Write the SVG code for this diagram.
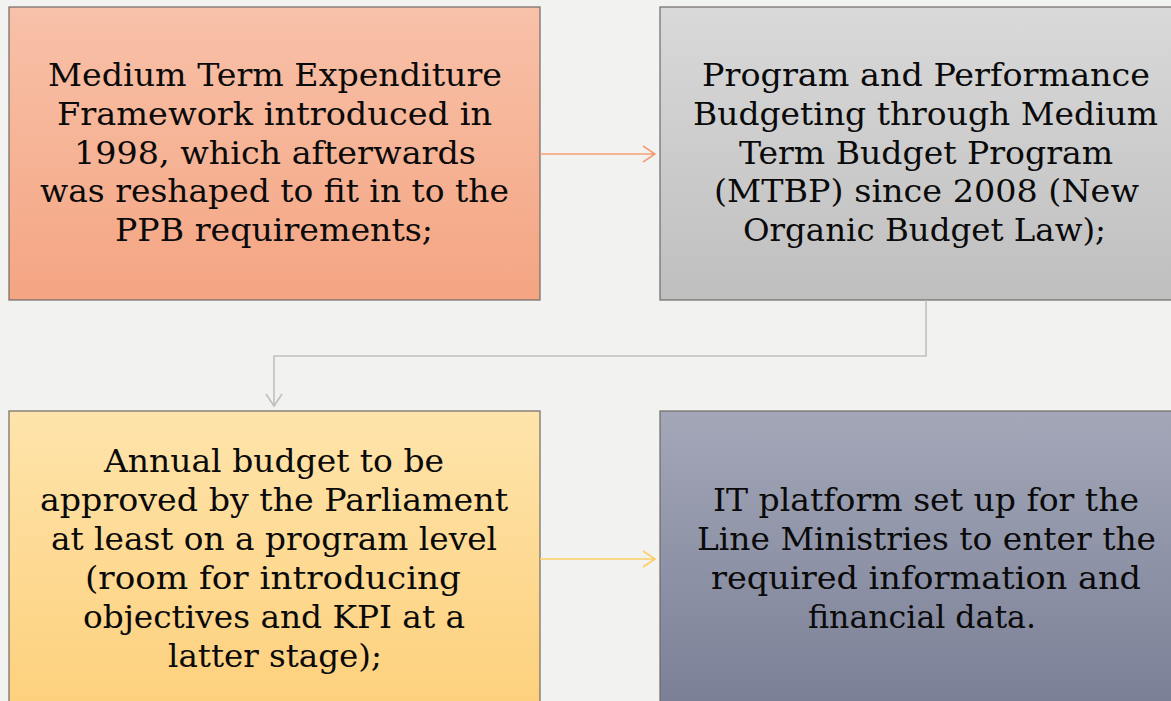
<svg xmlns="http://www.w3.org/2000/svg" width="1171" height="701" viewBox="0 0 1171 701">
<defs>
<linearGradient id="g1" x1="0" y1="0" x2="0" y2="1"><stop offset="0" stop-color="#f8c1a9"/><stop offset="1" stop-color="#f4a582"/></linearGradient>
<linearGradient id="g2" x1="0" y1="0" x2="0" y2="1"><stop offset="0" stop-color="#d9d9d9"/><stop offset="1" stop-color="#bfbfbf"/></linearGradient>
<linearGradient id="g3" x1="0" y1="0" x2="0" y2="1"><stop offset="0" stop-color="#fee4ab"/><stop offset="1" stop-color="#fdd07c"/></linearGradient>
<linearGradient id="g4" x1="0" y1="0" x2="0" y2="1"><stop offset="0" stop-color="#a3a7b8"/><stop offset="1" stop-color="#7b7f96"/></linearGradient>
<style>
.box{stroke:#6f6a66;stroke-width:1.2}
.t{font-family:"DejaVu Serif","Liberation Serif",serif;font-size:32px;fill:#0a0a0a;text-anchor:middle}
.c{fill:none;stroke-width:1.6}
</style>
</defs>
<rect width="1171" height="701" fill="#f2f2f0"/>
<g id="node1">
<rect class="box" x="9" y="7" width="531" height="293" fill="url(#g1)"/>
<text class="t" lengthAdjust="spacingAndGlyphs"><tspan x="275" y="86" textLength="454" lengthAdjust="spacingAndGlyphs">Medium Term Expenditure</tspan></text>
<text class="t"><tspan x="274.5" y="125" textLength="435" lengthAdjust="spacingAndGlyphs">Framework introduced in</tspan></text>
<text class="t"><tspan x="275" y="164" textLength="402" lengthAdjust="spacingAndGlyphs">1998, which afterwards</tspan></text>
<text class="t"><tspan x="274.5" y="202" textLength="469" lengthAdjust="spacingAndGlyphs">was reshaped to fit in to the</tspan></text>
<text class="t"><tspan x="274" y="241" textLength="318" lengthAdjust="spacingAndGlyphs">PPB requirements;</tspan></text>
</g>
<g id="node2">
<rect class="box" x="660" y="7" width="520" height="293" fill="url(#g2)"/>
<text class="t"><tspan x="926" y="86" textLength="448" lengthAdjust="spacingAndGlyphs">Program and Performance</tspan></text>
<text class="t"><tspan x="925.5" y="125" textLength="465" lengthAdjust="spacingAndGlyphs">Budgeting through Medium</tspan></text>
<text class="t"><tspan x="926" y="164" textLength="374" lengthAdjust="spacingAndGlyphs">Term Budget Program</tspan></text>
<text class="t"><tspan x="926.5" y="202" textLength="425" lengthAdjust="spacingAndGlyphs">(MTBP) since 2008 (New</tspan></text>
<text class="t"><tspan x="924.5" y="241" textLength="363" lengthAdjust="spacingAndGlyphs">Organic Budget Law);</tspan></text>
</g>
<g id="node3">
<rect class="box" x="9" y="411" width="531" height="300" fill="url(#g3)"/>
<text class="t"><tspan x="274" y="472" textLength="340" lengthAdjust="spacingAndGlyphs">Annual budget to be</tspan></text>
<text class="t"><tspan x="274" y="511" textLength="468" lengthAdjust="spacingAndGlyphs">approved by the Parliament</tspan></text>
<text class="t"><tspan x="274" y="550" textLength="446" lengthAdjust="spacingAndGlyphs">at least on a program level</tspan></text>
<text class="t"><tspan x="273" y="589" textLength="376" lengthAdjust="spacingAndGlyphs">(room for introducing</tspan></text>
<text class="t"><tspan x="274" y="628" textLength="382" lengthAdjust="spacingAndGlyphs">objectives and KPI at a</tspan></text>
<text class="t"><tspan x="275" y="667" textLength="214" lengthAdjust="spacingAndGlyphs">latter stage);</tspan></text>
</g>
<g id="node4">
<rect class="box" x="660" y="411" width="520" height="300" fill="url(#g4)"/>
<text class="t"><tspan x="926" y="511" textLength="426" lengthAdjust="spacingAndGlyphs">IT platform set up for the</tspan></text>
<text class="t"><tspan x="926.5" y="550" textLength="459" lengthAdjust="spacingAndGlyphs">Line Ministries to enter the</tspan></text>
<text class="t"><tspan x="926" y="589" textLength="430" lengthAdjust="spacingAndGlyphs">required information and</tspan></text>
<text class="t"><tspan x="922" y="628" textLength="228" lengthAdjust="spacingAndGlyphs">financial data.</tspan></text>
</g>
<g id="connectors">
<path class="c" stroke="#f2a074" d="M540 154 H655 M643 146 L655 154 L643 162"/>
<path class="c" stroke="#c0c0c0" d="M926 300 V356 H274 V406 M266 394 L274 406 L282 394"/>
<path class="c" stroke="#fbcf64" d="M540 559 H655 M643 551 L655 559 L643 567"/>
</g>
</svg>
